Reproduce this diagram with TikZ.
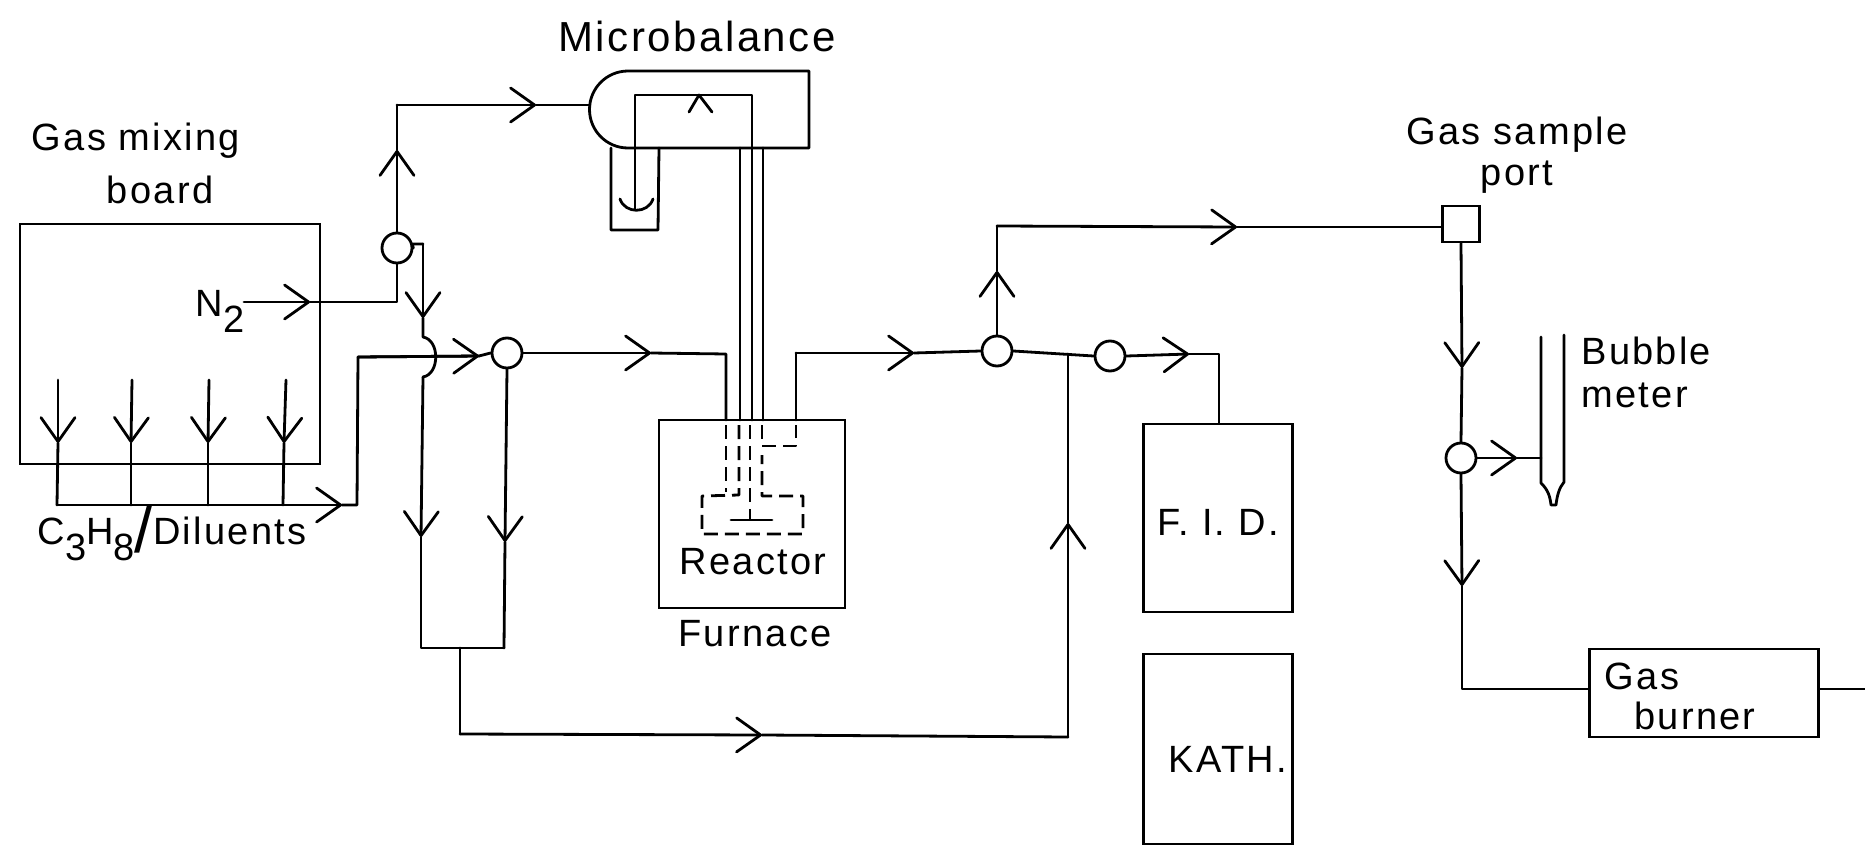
\documentclass[tikz,border=0pt]{standalone}
\usepackage{fontspec}
\setmainfont[LetterSpace=6]{Liberation Sans}
\usetikzlibrary{arrows.meta}
\newcommand{\dn}[1]{\raisebox{-0.42em}{#1}}
\tikzset{
  x=0.5pt,y=-0.5pt,
  pipe/.style={line width=1.4pt,line join=round,line cap=round},
  flow/.style={pipe,-{Straight Barb[length=12pt,width=17pt,line width=1.4pt,round]}},
  dash line/.style={line width=1.4pt,dash pattern=on 7pt off 3.5pt,line join=round},
  valve/.style={circle,draw,line width=1.4pt,minimum size=15pt,inner sep=0pt},
  unit/.style={rectangle,draw,line width=1.4pt,inner sep=0pt},
  lbl/.style={inner sep=0pt,font=\fontsize{19}{19}\selectfont,align=center}
}
\begin{document}
\begin{tikzpicture}
\useasboundingbox[fill=white] (0,0) rectangle (1865,846);
% equipment
\node[unit,minimum width=150pt,minimum height=120pt] (mix) at (170,344) {};
\node[valve] (v1) at (397,248) {};
\node[valve] (v2) at (507,353) {};
\node[valve] (v3) at (997,351) {};
\node[valve] (v4) at (1110,356) {};
\node[valve] (v5) at (1461,458) {};
\node[unit,minimum width=93pt,minimum height=94pt] (furn) at (752,514) {};
\node[unit,minimum width=74.5pt,minimum height=94pt] (fid) at (1218,518) {};
\node[unit,minimum width=74.5pt,minimum height=95pt] (kath) at (1218,749) {};
\node[unit,minimum width=18.5pt,minimum height=18pt] (port) at (1461,224) {};
\node[unit,minimum width=114.5pt,minimum height=44pt] (burn) at (1704,693) {};
% labels
\node[lbl] (tgas) at (136,141) {Gas mixing};
\node[lbl] (tboard) at (160,190) {board};
\node[lbl,font=\fontsize{21}{21}\selectfont] (tmb) at (697,36) {Microbalance};
\node[lbl] (tn2) at (220,311) {N\dn{2}};
\node[lbl] (tdil) at (172,533) {C\dn{3}H\dn{8}{\fontsize{33}{33}\selectfont\raisebox{-0.12em}{/}}Diluents};
\node[lbl] (trea) at (753,562) {Reactor};
\node[lbl] (tfur) at (755,634) {Furnace};
\node[lbl] (tfid) at (1218,522) {F. I. D.};
\node[lbl] (tkath) at (1228,759) {KATH.};
\node[lbl] (tgsp) at (1517,135) {Gas sample};
\node[lbl] (tport) at (1517,177) {port};
\node[lbl,anchor=west] (tbub) at (1581,351) {Bubble};
\node[lbl,anchor=west] (tmet) at (1581,395) {meter};
\node[lbl] (tgb1) at (1642,676) {Gas};
\node[lbl] (tgb2) at (1695,716) {burner};
% N2 line
\coordinate (n0) at (244,302);
\coordinate (nt) at (310,302);
\coordinate (nc) at (397,302);
\draw[flow] (n0) -- (nt);
\draw[pipe] (nt) -- (nc) -- (v1.south);
% to microbalance
\coordinate (a1) at (397,150);
\coordinate (a2) at (397,105);
\coordinate (a3) at (536,105);
\coordinate (mbin) at (590,105);
\draw[flow] (v1.north) -- (a1);
\draw[pipe] (a1) -- (a2);
\draw[flow] (a2) -- (a3);
\draw[pipe] (a3) -- (mbin);
% microbalance body
\draw[pipe] (809,71) -- (628,71) arc[start angle=270,end angle=90,radius=38.5] -- (809,148) -- cycle;
\draw[pipe] (611,148) -- (611,230) -- (658,230) -- (659,148);
\draw[pipe] (752,420) -- (752,95) -- (635,95) -- (635,210);
\draw[pipe] (620,199) .. controls (625,214) and (648,214) .. (653,199);
\draw[pipe] (689,112) -- (699,95) -- (712,112);
\draw[pipe] (740,148) -- (740,420);
\draw[pipe] (763,148) -- (763,420);
% bypass line
\coordinate (b0) at (412,244);
\coordinate (b1) at (423,244);
\coordinate (b2) at (423,318);
\coordinate (b3) at (423,337);
\coordinate (b4) at (423,377);
\coordinate (b5) at (421,537);
\coordinate (b6) at (421,648);
\coordinate (b7) at (504,648);
\coordinate (b8) at (505,542);
\coordinate (b9) at (460,648);
\draw[pipe] (v1.east) -- (b0) -- (b1);
\draw[flow] (b1) -- (b2);
\draw[pipe] (b2) -- (b3) .. controls (440,340) and (440,374) .. (b4);
\draw[flow] (b4) -- (b5);
\draw[pipe] (b5) -- (b6) -- (b7);
\draw[flow] (v2.south) -- (b8);
\draw[pipe] (b8) -- (b7);
% return line
\coordinate (r1) at (460,734);
\coordinate (r2) at (762,735);
\coordinate (r3) at (1068,737);
\coordinate (r4) at (1068,523);
\coordinate (r5) at (1068,354);
\draw[pipe] (b9) -- (r1);
\draw[flow] (r1) -- (r2);
\draw[pipe] (r2) -- (r3);
\draw[flow] (r3) -- (r4);
\draw[pipe] (r4) -- (r5);
% diluent lines
\foreach \n/\xa/\xb/\xc in {1/58/58/57,2/132/131/131,3/209/208/208,4/286/284/283}{
  \coordinate (d\n) at (\xa,380);
  \coordinate (e\n) at (\xb,443);
  \coordinate (f\n) at (\xc,505);
  \draw[flow] (d\n) -- (e\n);
  \draw[pipe] (e\n) -- (f\n);
}
\coordinate (g1) at (342,505);
\coordinate (g2) at (357,505);
\coordinate (g3) at (358,357);
\coordinate (g4) at (479,356);
\draw[flow] (f1) -- (g1);
\draw[pipe] (g1) -- (g2) -- (g3) -- (g4);
\draw[flow] (g3) -- (g4);
\draw[pipe] (g4) -- (v2.west);
% to furnace
\coordinate (h1) at (651,353);
\coordinate (h2) at (726,354);
\coordinate (h3) at (726,420);
\draw[flow] (v2.east) -- (h1);
\draw[pipe] (h1) -- (h2) -- (h3);
% out of furnace
\coordinate (i1) at (796,420);
\coordinate (i2) at (796,353);
\coordinate (i3) at (914,353);
\draw[pipe] (i1) -- (i2);
\draw[flow] (i2) -- (i3);
\draw[pipe] (i3) -- (v3.west);
% dashed interior
\draw[dash line] (726,425) -- (726,492);
\draw[dash line] (739,425) -- (739,495) -- (702,496) -- (702,534) -- (803,534) -- (803,496) -- (762,496) -- (762,455);
\draw[dash line] (750,425) -- (750,520);
\draw[dash line] (762,425) -- (762,446) -- (796,446) -- (796,425);
\draw[pipe] (731,520) -- (772,520);
% sample line
\coordinate (j1) at (997,271);
\coordinate (j2) at (997,226);
\coordinate (j3) at (1237,227);
\draw[flow] (v3.north) -- (j1);
\draw[pipe] (j1) -- (j2);
\draw[flow] (j2) -- (j3);
\draw[pipe] (j3) -- (port.west |- j3);
% to FID
\coordinate (k1) at (1189,354);
\coordinate (k2) at (1219,354);
\draw[pipe] (v3.east) -- (v4.west);
\draw[flow] (v4.east) -- (k1);
\draw[pipe] (k1) -- (k2) -- (k2 |- fid.north);
% sample port down
\coordinate (l1) at (1462,368);
\coordinate (l2) at (1462,586);
\coordinate (l3) at (1462,689);
\draw[flow] (port.south) -- (l1);
\draw[pipe] (l1) -- (v5.north);
\draw[flow] (v5.south) -- (l2);
\draw[pipe] (l2) -- (l3) -- (l3 -| burn.west);
% bubble meter
\coordinate (m1) at (1517,458);
\coordinate (m2) at (1541,458);
\draw[flow] (v5.east) -- (m1);
\draw[pipe] (m1) -- (m2);
\draw[pipe] (1541,337) -- (m2) -- (1541,483) .. controls (1548,490) and (1550,496) .. (1551,505) -- (1556,505) .. controls (1557,496) and (1559,488) .. (1564,482) -- (1564,335);
% burner outlet
\coordinate (o1) at (1865,689);
\draw[pipe] (burn.east |- o1) -- (o1);
\end{tikzpicture}
\end{document}
